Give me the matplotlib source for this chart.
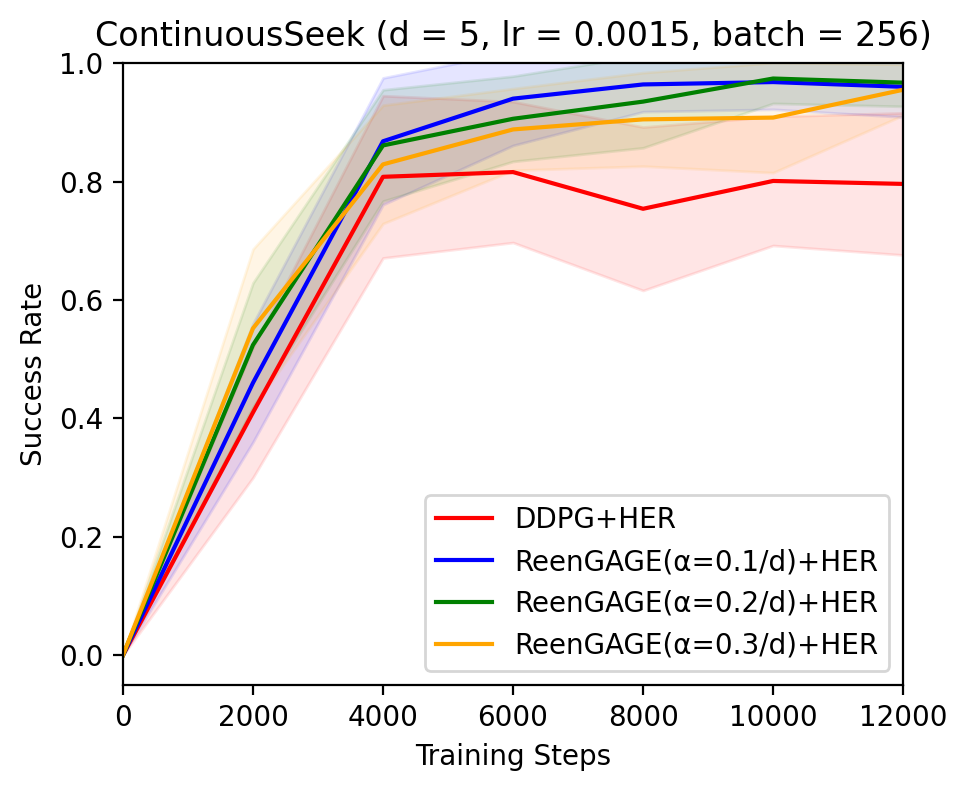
import matplotlib
matplotlib.use("Agg")
import matplotlib.pyplot as plt
import numpy as np

steps = [0, 2000, 4000, 6000, 8000, 10000, 12000]

ddpg_mean = [0.0, 0.41, 0.808, 0.816, 0.754, 0.801, 0.796]
ddpg_std = [0.0, 0.11, 0.137, 0.119, 0.138, 0.109, 0.120]

reen01_mean = [0.0, 0.46, 0.868, 0.940, 0.964, 0.968, 0.960]
reen01_std = [0.0, 0.10, 0.107, 0.079, 0.046, 0.046, 0.051]

reen02_mean = [0.0, 0.524, 0.861, 0.906, 0.935, 0.974, 0.967]
reen02_std = [0.0, 0.105, 0.094, 0.072, 0.078, 0.042, 0.040]

reen03_mean = [0.0, 0.552, 0.829, 0.888, 0.905, 0.908, 0.955]
reen03_std = [0.0, 0.134, 0.100, 0.069, 0.079, 0.093, 0.043]

series = [
    ("DDPG+HER", ddpg_mean, ddpg_std, "red"),
    ("ReenGAGE(α=0.1/d)+HER", reen01_mean, reen01_std, "blue"),
    ("ReenGAGE(α=0.2/d)+HER", reen02_mean, reen02_std, "green"),
    ("ReenGAGE(α=0.3/d)+HER", reen03_mean, reen03_std, "orange"),
]

fig = plt.figure(figsize=(4.84, 3.945), dpi=200)
ax = fig.add_axes([0.127, 0.132, 0.806, 0.788])

x = np.array(steps)
for label, mean, std, color in series:
    m = np.array(mean)
    s = np.array(std)
    ax.plot(x, m, color=color, label=label, lw=1.5)
    ax.fill_between(x, m - s, m + s, color=color, alpha=0.1)

ax.set_xlim(0, 12000)
ax.set_ylim(-0.05, 1.0)
ax.set_xticks([0, 2000, 4000, 6000, 8000, 10000, 12000])
ax.set_yticks([0.0, 0.2, 0.4, 0.6, 0.8, 1.0])
ax.set_xlabel("Training Steps")
ax.set_ylabel("Success Rate")
ax.set_title("ContinuousSeek (d = 5, lr = 0.0015, batch = 256)", fontsize=12)
ax.legend(loc="lower right")

fig.savefig("out.png", dpi=200)
